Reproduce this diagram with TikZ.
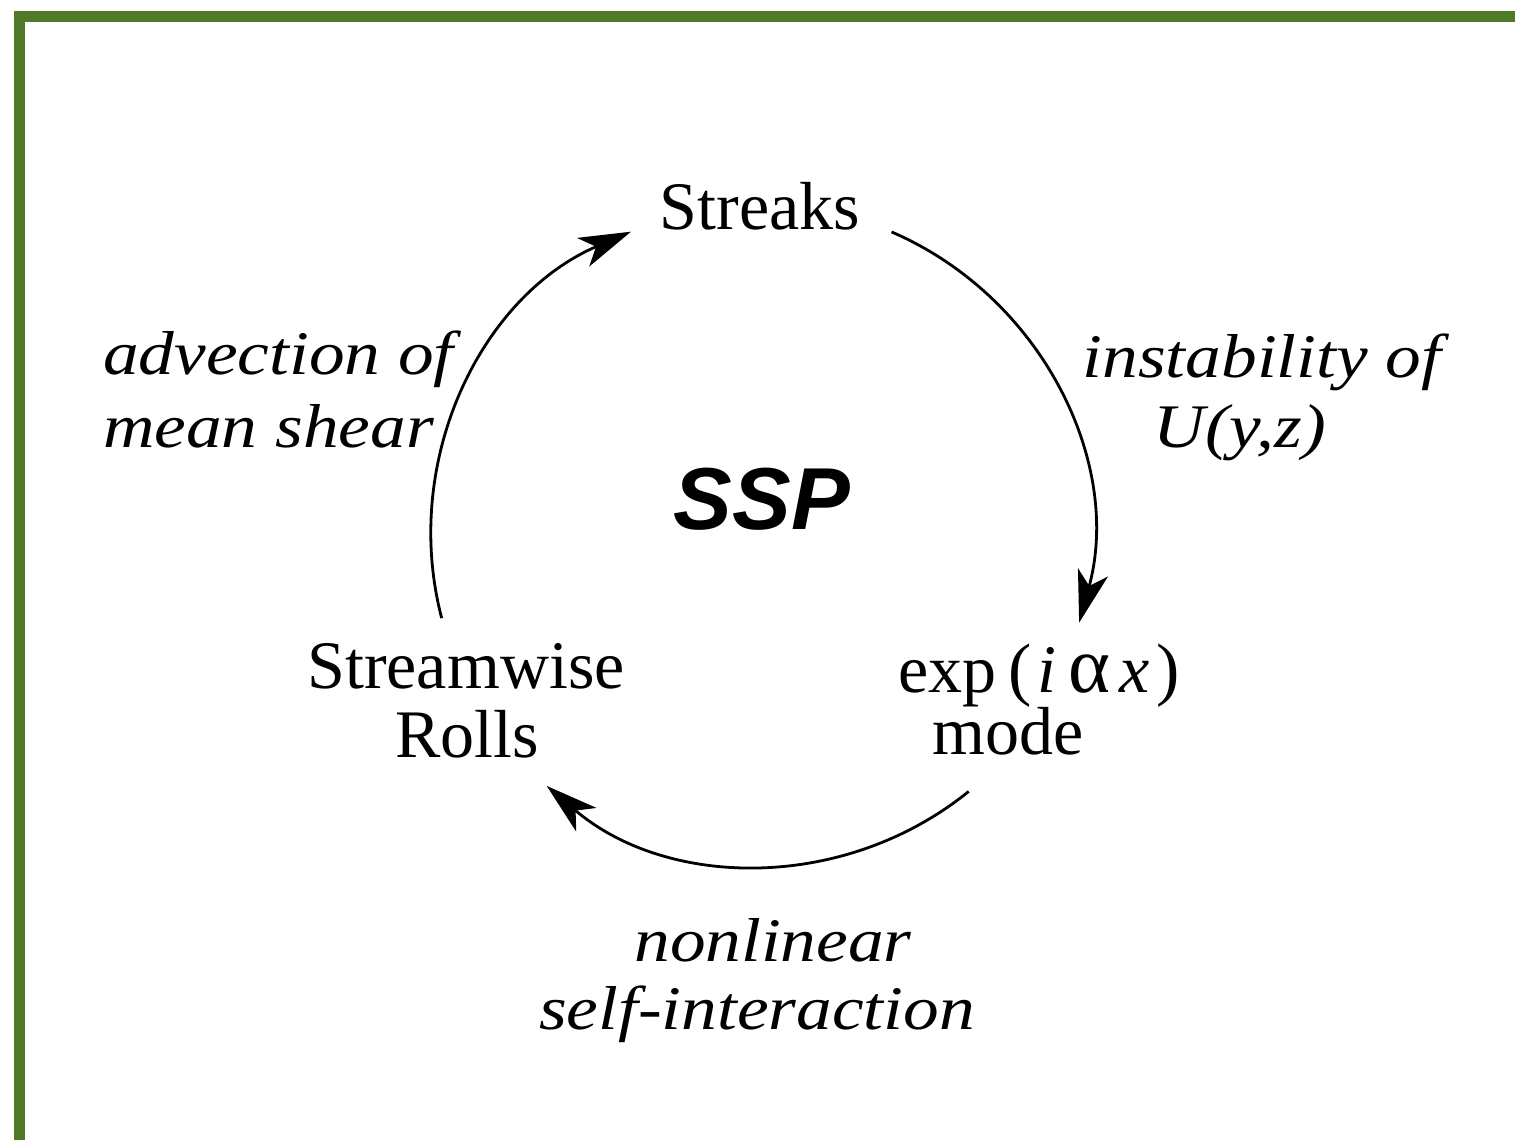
\documentclass[tikz,border=0pt]{standalone}
\usepackage{fontspec}
\setmainfont{Liberation Serif}
\newfontfamily\labfont{Liberation Serif}[FakeStretch=1.15]
\newfontfamily\sspfont{Liberation Sans}
\usetikzlibrary{arrows.meta,calc}
\definecolor{bordergreen}{RGB}{80,122,40}
\tikzset{
  mainlab/.style={inner sep=0pt, anchor=base, font=\fontsize{68}{73}\selectfont},
  itlab/.style={inner sep=0pt, font=\labfont\itshape\fontsize{62}{70}\selectfont},
  cyc/.style={line width=2.8pt, -{Stealth[length=52pt,width=31pt,inset=14pt]}},
}
\begin{document}
\begin{tikzpicture}[x=1pt,y=1pt]
\clip (0,0) rectangle (1515,1140);
\fill[white] (0,0) rectangle (1515,1140);
\draw[line width=11pt, bordergreen] (19.5,1123.5) rectangle (1560,-30);

\coordinate (c) at (761,605);
% nodes
\node[mainlab] (streaks) at (760,910) {Streaks};
\node[inner sep=0pt, anchor=base, font=\sspfont\bfseries\itshape\fontsize{88}{88}\selectfont] (ssp) at (762,610) {SSP};
\node[mainlab] (rolls1) at (466,451) {Streamwise};
\node[mainlab] (rolls2) at (467,382) {Rolls};
\node[mainlab] (mode1) at (1039,447) {exp\hspace{12pt}{\fontsize{70}{70}\selectfont(}\hspace{5pt}{\itshape i}\hspace{12pt}{\fontsize{80}{80}\selectfont α}\hspace{10pt}{\itshape x}\hspace{6pt}{\fontsize{70}{70}\selectfont)}};
\node[mainlab] (mode2) at (1008,385) {mode};

\node[itlab, anchor=base west] (adv1) at (103,765) {advection of};
\node[itlab, anchor=base west] (adv2) at (103,692) {mean shear};
\node[itlab, anchor=base] (inst1) at (1262,762) {instability of};
\node[itlab, anchor=base] (inst2) at (1240,692) {U(y,z)};
\node[itlab, anchor=base] (nl1) at (773,178) {nonlinear};
\node[itlab, anchor=base] (nl2) at (757,110) {self-interaction};

% arcs of the cycle
\coordinate (s1) at ($(c)+(66.7:330)$);
\coordinate (s2) at ($(c)+(-51:330)$);
\coordinate (s3) at ($(c)+(194.6:330)$);
\draw[cyc] (s1) arc[start angle=66.7, end angle=-15.4, radius=330];
\draw[cyc] (s2) arc[start angle=-51, end angle=-130.5, radius=330];
\draw[cyc] (s3) arc[start angle=194.6, end angle=113.2, radius=330];
\end{tikzpicture}
\end{document}
